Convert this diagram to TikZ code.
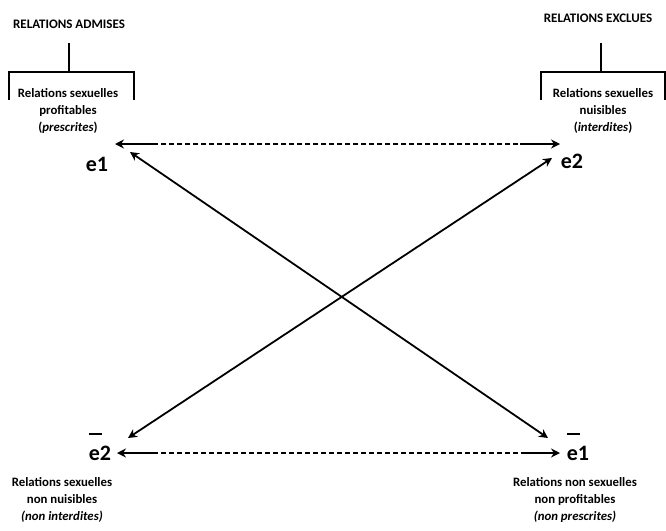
\documentclass[tikz,border=0pt]{standalone}
\usepackage{fontspec}
\setmainfont{Carlito}
\usetikzlibrary{arrows.meta}
\newcommand\ebar{\makebox[0pt][l]{\raisebox{1.12em}{\rule{0.6em}{2pt}}}e}
\begin{document}
\begin{tikzpicture}[x=1pt,y=-1pt,
  head/.style={font=\bfseries\fontsize{13}{14}\selectfont, inner sep=0pt},
  desc/.style={font=\bfseries\fontsize{12.8}{17}\selectfont, align=center, inner sep=0pt},
  ev/.style={font=\bfseries\fontsize{22}{24}\selectfont, inner sep=0pt, anchor=base},
  br/.style={line width=2.5pt},
  conn/.style={line width=1.8pt},
  tip/.style={-{Stealth[length=9pt,width=9pt,inset=3pt]}},
  tips/.style={{Stealth[length=9pt,width=9pt,inset=3pt]}-{Stealth[length=9pt,width=9pt,inset=3pt]}},
  dashline/.style={line width=1.8pt, dash pattern=on 5pt off 3pt}]
\useasboundingbox (0,0) rectangle (666,530);
% headings
\node[head] (admises) at (69,24) {RELATIONS ADMISES};
\node[head] (exclues) at (598,18) {RELATIONS EXCLUES};
% brackets
\draw[br] (9,100) -- (9,72) -- (134,72) -- (134,100);
\draw[br] (69,72) -- (69,43);
\draw[br] (541,100) -- (541,72) -- (665,72) -- (665,100);
\draw[br] (601,72) -- (601,43);
% descriptions
\node[desc] (dTL) at (68,111) {Relations sexuelles\\profitables\\(\textit{prescrites})};
\node[desc] (dTR) at (603,111) {Relations sexuelles\\nuisibles\\(\textit{interdites})};
\node[desc] (dBL) at (62,500) {Relations sexuelles\\non nuisibles\\\textit{(non interdites)}};
\node[desc] (dBR) at (575,500) {Relations non sexuelles\\non profitables\\\textit{(non prescrites)}};
% events
\node[ev] (e1) at (97,171) {e1};
\node[ev] (e2) at (572,168) {e2};
\node[ev] (e2b) at (100,460) {\ebar2};
\node[ev] (e1b) at (578,460) {\ebar1};
% arrow end points
\coordinate (ta) at (115,144);
\coordinate (tb) at (560,144);
\coordinate (tc) at (117,453);
\coordinate (td) at (560,453);
\coordinate (h1) at (153,144);
\coordinate (h2) at (520,144);
\coordinate (h3) at (153,453);
\coordinate (h4) at (522,453);
\coordinate (d1) at (130,152);
\coordinate (d4) at (548,438);
\coordinate (d2) at (552,158);
\coordinate (d3) at (128,438);
% horizontal connectors
\draw[conn,tip] (h1) -- (ta);
\draw[dashline] (h1) -- (h2);
\draw[conn,tip] (h2) -- (tb);
\draw[conn,tip] (h3) -- (tc);
\draw[dashline] (h3) -- (h4);
\draw[conn,tip] (h4) -- (td);
% diagonals
\draw[conn,tips] (d1) -- (d4);
\draw[conn,tips] (d3) -- (d2);
\end{tikzpicture}
\end{document}
